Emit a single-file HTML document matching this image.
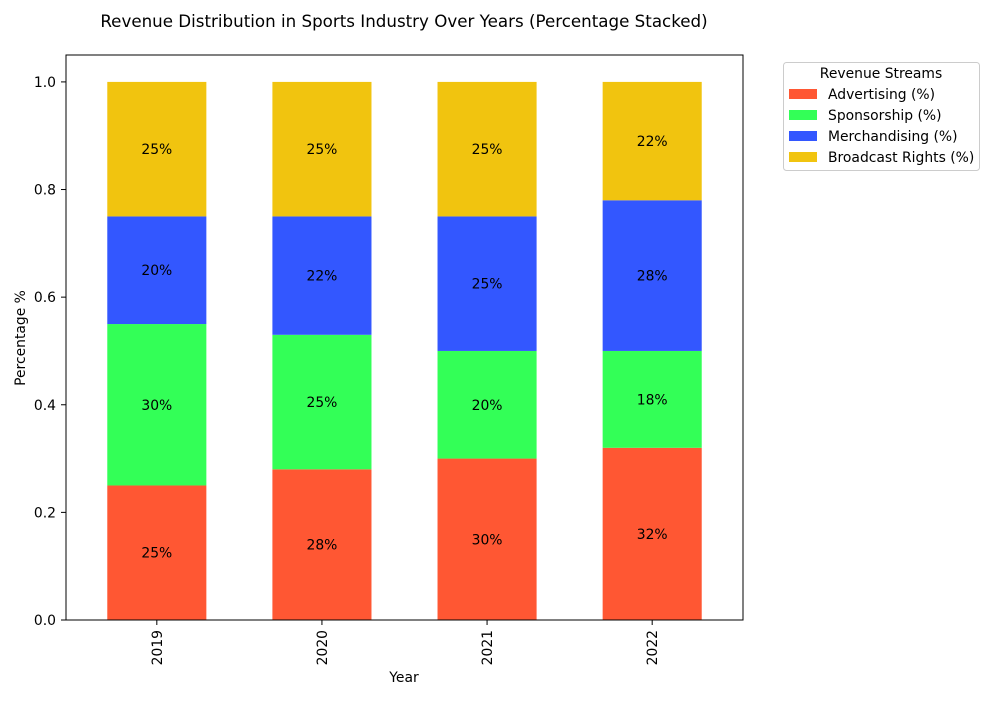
<!DOCTYPE html>
<html><head><meta charset="utf-8"><style>
body{margin:0;background:#fff;}
svg{font-family:"DejaVu Sans","Liberation Sans",sans-serif;}
</style></head><body>
<svg id="chart" width="1000" height="700" xmlns="http://www.w3.org/2000/svg">
<rect width="1000" height="700" fill="#fff"/>
<text x="404" y="27" font-size="16.7" text-anchor="middle">Revenue Distribution in Sports Industry Over Years (Percentage Stacked)</text>
<g id="plot"></g>
<text x="404" y="682" font-size="13.9" text-anchor="middle">Year</text>
<text transform="translate(25,338) rotate(-90)" font-size="13.9" text-anchor="middle">Percentage %</text>
<g id="legend"></g>
</svg>
<script>
const years=["2019","2020","2021","2022"];
const seriesNames=["Advertising (%)","Sponsorship (%)","Merchandising (%)","Broadcast Rights (%)"];
const advertising=[0.25,0.28,0.30,0.32];
const sponsorship=[0.30,0.25,0.20,0.18];
const merchandising=[0.20,0.22,0.25,0.28];
const broadcast=[0.25,0.25,0.25,0.22];
const yTicks=[0,0.2,0.4,0.6,0.8,1.0];
const colors=["#FF5733","#33FF57","#3357FF","#F1C40F"];
const series=[advertising,sponsorship,merchandising,broadcast];
const NS="http://www.w3.org/2000/svg";
const L=66,R=743,T=55,B=620;
const y=v=>B-(v/1.05)*(B-T);
const x=i=>L+(i+0.55)/4.1*(R-L);
const bw=0.6/4.1*(R-L);
function mk(tag,attrs,parent){const e=document.createElementNS(NS,tag);for(const k in attrs)e.setAttribute(k,attrs[k]);parent.appendChild(e);return e;}
const plot=document.getElementById('plot');
years.forEach((yr,i)=>{
  let base=0;
  series.forEach((s,j)=>{
    const v=s[i];
    const r=mk('rect',{x:x(i)-bw/2,y:y(base+v),width:bw,height:y(base)-y(base+v),fill:colors[j]},plot);
    
    
    const t=mk('text',{x:x(i),y:y(base+v/2)+5,'font-size':13.9,'text-anchor':'middle'},plot);
    t.textContent=Math.round(v*100)+'%';
    
    
    base+=v;
  });
  mk('line',{x1:x(i),x2:x(i),y1:B,y2:B+5,stroke:'#000'},plot);
  const tl=mk('text',{transform:`translate(${x(i)+5},${B+10}) rotate(-90)`,'font-size':13.9,'text-anchor':'end'},plot);
  tl.textContent=yr;
  
  
});
yTicks.forEach(v=>{
  mk('line',{x1:L-5,x2:L,y1:y(v),y2:y(v),stroke:'#000'},plot);
  const t=mk('text',{x:L-10,y:y(v)+5,'font-size':13.9,'text-anchor':'end'},plot);
  t.textContent=v.toFixed(1);
  
  
});
const frame=mk('rect',{x:L,y:T,width:R-L,height:B-T,fill:'none',stroke:'#000','stroke-width':1},plot);


const lg=document.getElementById('legend');
mk('rect',{x:783.5,y:62.5,width:196,height:108,rx:3,fill:'#fff',stroke:'#ccc'},lg);
const lt=mk('text',{x:881,y:78,'font-size':13.9,'text-anchor':'middle'},lg);
lt.textContent='Revenue Streams';
seriesNames.forEach((n,j)=>{
  const yy=94+j*21;
  const p=mk('rect',{x:789,y:yy-5,width:28,height:10,fill:colors[j]},lg);
  
  
  const t=mk('text',{x:828,y:yy+5,'font-size':13.9},lg);
  t.textContent=n;
  
  
});
</script>
</body></html>
